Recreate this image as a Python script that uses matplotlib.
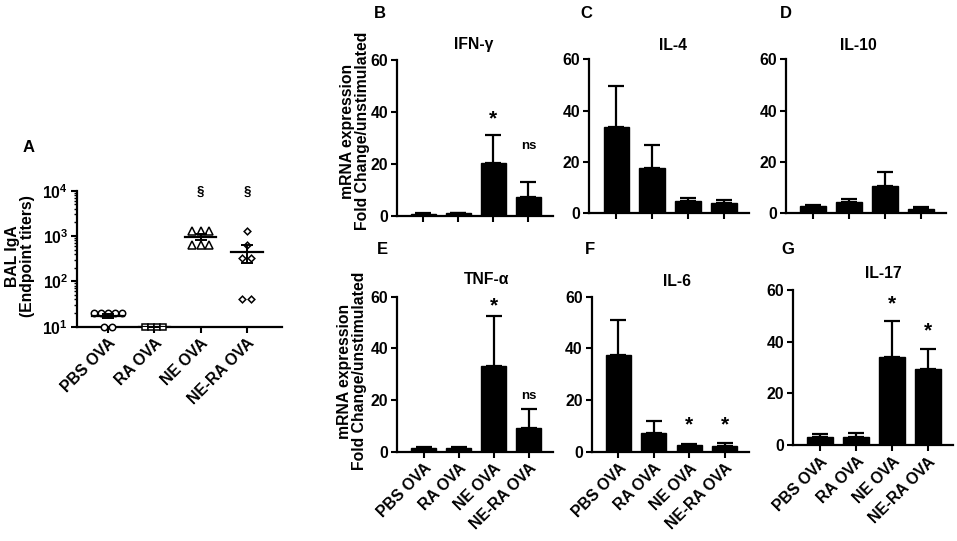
import numpy as np
import matplotlib
matplotlib.use("Agg")
import matplotlib.pyplot as plt
from matplotlib.ticker import FixedLocator, FixedFormatter, LogLocator, NullFormatter

plt.rcParams['font.family'] = ['Liberation Sans', 'DejaVu Sans']
plt.rcParams['font.weight'] = 'bold'
plt.rcParams['mathtext.fontset'] = 'custom'
plt.rcParams['mathtext.bf'] = 'Liberation Sans:bold'
plt.rcParams['mathtext.rm'] = 'Liberation Sans:bold'

# ---------------- data ----------------
groups = ["PBS OVA", "RA OVA", "NE OVA", "NE-RA OVA"]

# Panel A: BAL IgA endpoint titers (individual animals)
iga_pbs = [20, 20, 20, 20, 20, 10, 10]
iga_ra = [10, 10, 10, 10]
iga_ne = [1280, 1280, 1280, 640, 640, 640]
iga_nera = [1280, 640, 320, 320, 40, 40]
iga_sig = ["", "", "§", "§"]

# Panels B-G: mean fold change and SEM
ifng_mean = [0.8, 1.0, 20.4, 7.3]
ifng_sem = [0.2, 0.2, 10.9, 5.7]
il4_mean = [33.7, 17.8, 4.8, 3.9]
il4_sem = [15.9, 8.8, 1.3, 1.3]
il10_mean = [2.8, 4.5, 10.8, 1.8]
il10_sem = [0.6, 1.1, 5.3, 0.5]
tnfa_mean = [1.6, 1.6, 33.2, 9.0]
tnfa_sem = [0.2, 0.2, 19.3, 7.4]
il6_mean = [37.4, 7.2, 2.5, 2.3]
il6_sem = [13.4, 4.7, 0.5, 1.2]
il17_mean = [3.2, 3.2, 34.0, 29.4]
il17_sem = [1.1, 1.3, 14.0, 7.6]

# significance marks and the value at which they are drawn
ifng_sig = ["", "", "*", "ns"]
ifng_sig_y = [0, 0, 37.5, 27]
il4_sig = ["", "", "", ""]
il4_sig_y = [0, 0, 0, 0]
il10_sig = ["", "", "", ""]
il10_sig_y = [0, 0, 0, 0]
tnfa_sig = ["", "", "*", "ns"]
tnfa_sig_y = [0, 0, 56.5, 21.6]
il6_sig = ["", "", "*", "*"]
il6_sig_y = [0, 0, 10.3, 10.3]
il17_sig = ["", "", "*", "*"]
il17_sig_y = [0, 0, 54.5, 44.2]

y_ticks_bar = [0, 20, 40, 60]
y_ticks_log = [10, 100, 1000, 10000]
y_ticklabels_log = [r'$\mathbf{10^{1}}$', r'$\mathbf{10^{2}}$', r'$\mathbf{10^{3}}$', r'$\mathbf{10^{4}}$']

# ---------------- layout ----------------
W, H = 957, 541
fig = plt.figure(figsize=(W / 100, H / 100), dpi=100)
FS = 11.3


def ax_at(l, r, t, b):
    return fig.add_axes([l / W, (H - b) / H, (r - l) / W, (b - t) / H])


def style(ax):
    for s in ['top', 'right']:
        ax.spines[s].set_visible(False)
    for s in ['left', 'bottom']:
        ax.spines[s].set_linewidth(1.6)
    ax.tick_params(axis='both', which='major', direction='out', length=4.5, width=1.5,
                   labelsize=FS, pad=2)
    ax.tick_params(axis='y', which='minor', direction='out', length=2.5, width=1.0)


def fx(x):
    return x / W


def fy(y):
    return (H - y) / H


LBL = dict(fontsize=FS, fontweight='bold')

# ---------------- Panel A ----------------
axA = ax_at(77, 282, 190.7, 326.7)
style(axA)
axA.set_yscale('log')
axA.set_ylim(10, 10000)
axA.set_xlim(-0.67, 3.76)
axA.yaxis.set_major_locator(FixedLocator(y_ticks_log))
axA.yaxis.set_major_formatter(FixedFormatter(y_ticklabels_log))
axA.yaxis.set_minor_locator(LogLocator(base=10, subs=np.arange(2, 10)))
axA.yaxis.set_minor_formatter(NullFormatter())
axA.set_xticks(range(len(groups)))
axA.set_xticklabels(groups, rotation=45, ha='right', rotation_mode='anchor', fontsize=FS)

iga_sets = [iga_pbs, iga_ra, iga_ne, iga_nera]
markers = ['o', 's', '^', 'D']
msizes = [4.6, 4.2, 5.2, 3.4]
steps = [0.155, 0.13, 0.18, 0.2]
for i, vals in enumerate(iga_sets):
    vals = np.array(vals, dtype=float)
    xs = np.zeros_like(vals)
    for u in np.unique(vals):
        idx = np.where(vals == u)[0]
        n = len(idx)
        xs[idx] = i + (np.arange(n) - (n - 1) / 2) * steps[i]
    axA.plot(xs, vals, linestyle='none', marker=markers[i], markersize=msizes[i],
             markerfacecolor='white', markeredgecolor='black', markeredgewidth=1.1,
             clip_on=False, zorder=3)
    m = vals.mean()
    sem = vals.std(ddof=1) / np.sqrt(len(vals))
    axA.plot([i - 0.34, i + 0.34], [m, m], color='black', lw=1.6, zorder=4)
    axA.errorbar([i], [m], yerr=[[sem], [sem]], fmt='none', ecolor='black',
                 elinewidth=1.4, capsize=4.5, capthick=1.4, zorder=4)
    if iga_sig[i]:
        axA.text(i, 9300, iga_sig[i], ha='center', va='center', fontsize=9.5,
                 fontweight='bold', clip_on=False)

fig.text(fx(20), fy(256), "BAL IgA\n(Endpoint titers)", rotation=90, ha='center',
         va='center', multialignment='center', linespacing=1.05, **LBL)
fig.text(fx(29), fy(148), "A", ha='center', va='center', fontsize=12, fontweight='bold')

# ---------------- Bar panels ----------------
panels = [
    # letter, title, mean, sem, sig, sig_y, box(l,r,t,b), letter pos, title pos, show labels
    ("B", "IFN-γ", ifng_mean, ifng_sem, ifng_sig, ifng_sig_y, (397, 553, 60, 216), (380, 13), (474, 44), False),
    ("C", "IL-4", il4_mean, il4_sem, il4_sig, il4_sig_y, (589.3, 749.3, 59.3, 213.3), (586, 13), (673, 45), False),
    ("D", "IL-10", il10_mean, il10_sem, il10_sig, il10_sig_y, (786, 946, 59.3, 213.3), (786, 13), (858, 45), False),
    ("E", "TNF-α", tnfa_mean, tnfa_sem, tnfa_sig, tnfa_sig_y, (397.3, 553, 296.7, 451.7), (382, 250), (487, 280), True),
    ("F", "IL-6", il6_mean, il6_sem, il6_sig, il6_sig_y, (591.7, 749.3, 296.7, 451.7), (590, 249), (677, 282), True),
    ("G", "IL-17", il17_mean, il17_sem, il17_sig, il17_sig_y, (793.3, 953, 290, 445), (788, 250), (883, 273), True),
]

x = np.arange(len(groups))
for letter, title, mean, sem, sig, sig_y, box, lpos, tpos, show in panels:
    ax = ax_at(*box)
    style(ax)
    ax.bar(x, mean, width=0.71, color='black', edgecolor='black', zorder=2)
    ax.errorbar(x, mean, yerr=[np.zeros(len(sem)), sem], fmt='none', ecolor='black',
                elinewidth=1.6, capsize=6, capthick=1.6, zorder=1)
    ax.set_ylim(0, 60)
    ax.set_xlim(-0.75, 3.7)
    ax.set_yticks(y_ticks_bar)
    ax.set_xticks(x)
    if show:
        ax.set_xticklabels(groups, rotation=45, ha='right', rotation_mode='anchor', fontsize=FS)
    else:
        ax.set_xticklabels([])
    for i, s in enumerate(sig):
        if s:
            fs = 15 if s == '*' else 9.5
            yv = sig_y[i]
            ax.text(i, yv, s, ha='center', va='center', fontsize=fs, fontweight='bold',
                    clip_on=False)
    fig.text(fx(lpos[0]), fy(lpos[1]), letter, ha='center', va='center', fontsize=12,
             fontweight='bold')
    fig.text(fx(tpos[0]), fy(tpos[1]), title, ha='center', va='center', fontsize=FS,
             fontweight='bold')

fig.text(fx(355), fy(131), "mRNA expression\nFold Change/unstimulated", rotation=90,
         ha='center', va='center', multialignment='center', linespacing=1.0, **LBL)
fig.text(fx(352), fy(371), "mRNA expression\nFold Change/unstimulated", rotation=90,
         ha='center', va='center', multialignment='center', linespacing=1.0, **LBL)

fig.savefig("out.png", dpi=100)
